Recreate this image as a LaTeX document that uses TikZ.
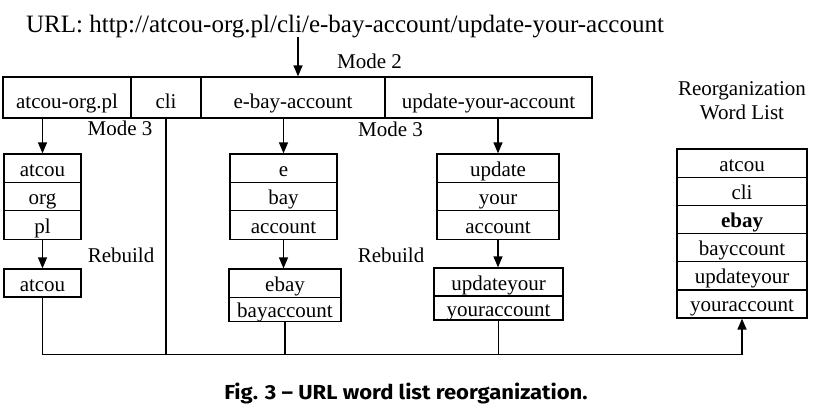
\documentclass[tikz,border=0pt]{standalone}
\usepackage{fontspec}
\setmainfont{Liberation Serif}
\newfontfamily\capfont{Fira Sans}[FakeStretch=1.085]
\usetikzlibrary{arrows.meta}

\begin{document}
\begin{tikzpicture}[x=1pt,y=-1pt,
        cx/.style={draw, line width=1.3pt, inner sep=0pt, text height=16pt, text depth=0pt, font=\fontsize{21}{24}\selectfont},
        barra/.style={cx, minimum height=41pt, text height=21.6pt},
        rot/.style={inner sep=0pt, anchor=base, font=\fontsize{21}{24}\selectfont},
        seta/.style={line width=1.3pt, -{Triangle[length=11pt,width=9pt]}},
        liga/.style={line width=1.7pt}] %3
            \useasboundingbox (0,0) rectangle (820,415);

            \node[rot, font=\fontsize{25}{28}\selectfont] (url) at (345,32) {URL: http://atcou-org.pl/cli/e-bay-account/update-your-account};

            \node[barra, minimum width=128pt] (t1) at (67,97.5) {atcou-org.pl};
            \node[barra, minimum width=70pt] (t2) at (166,97.5) {cli};
            \node[barra, minimum width=184pt] (t3) at (293,97.5) {e-bay-account};
            \node[barra, minimum width=207pt] (t4) at (488.5,97.5) {update-your-account};

            \node[cx, minimum width=77pt, minimum height=28.4pt] (l1) at (42.5,168.2) {atcou};
            \node[cx, minimum width=77pt, minimum height=28.4pt] (l2) at (42.5,196.6) {org};
            \node[cx, minimum width=77pt, minimum height=28.4pt] (l3) at (42.5,225) {pl};
            \node[cx, minimum width=77pt, minimum height=28pt] (lr) at (42.5,283) {atcou};

            \node[cx, minimum width=107pt, minimum height=28.4pt] (m1) at (283.5,168.2) {e};
            \node[cx, minimum width=107pt, minimum height=28.4pt] (m2) at (283.5,196.6) {bay};
            \node[cx, minimum width=107pt, minimum height=28.4pt] (m3) at (283.5,225) {account};
            \node[cx, minimum width=112pt, minimum height=28.3pt] (mr1) at (285,283.2) {ebay};
            \node[cx, minimum width=112pt, minimum height=24.3pt] (mr2) at (285,309.5) {bayaccount};

            \node[cx, minimum width=122pt, minimum height=28.4pt] (u1) at (498,168.2) {update};
            \node[cx, minimum width=122pt, minimum height=28.4pt] (u2) at (498,196.6) {your};
            \node[cx, minimum width=122pt, minimum height=28.4pt] (u3) at (498,225) {account};
            \node[cx, minimum width=129pt, minimum height=28pt] (ur1) at (498.5,282) {updateyour};
            \node[cx, minimum width=129pt, minimum height=24pt] (ur2) at (498.5,308) {youraccount};

            \node[rot] (ttl1) at (742,95) {Reorganization};
            \node[rot] (ttl2) at (742,119) {Word List};
            \node[cx, minimum width=130pt, minimum height=28.17pt] (w1) at (742,163.1) {atcou};
            \node[cx, minimum width=130pt, minimum height=28.17pt] (w2) at (742,191.3) {cli};
            \node[cx, minimum width=130pt, minimum height=28.17pt] (w3) at (742,219.4) {\textbf{ebay}};
            \node[cx, minimum width=130pt, minimum height=28.17pt] (w4) at (742,247.6) {bayccount};
            \node[cx, minimum width=130pt, minimum height=28.17pt] (w5) at (742,275.8) {updateyour};
            \node[cx, minimum width=130pt, minimum height=28.17pt] (w6) at (742,303.9) {youraccount};

            \node[rot] (mode2) at (369.5,68) {Mode 2};
            \node[rot] (mode3a) at (120,135) {Mode 3};
            \node[rot] (mode3b) at (390.5,136) {Mode 3};
            \node[rot] (reb1) at (121,262) {Rebuild};
            \node[rot] (reb2) at (391,262) {Rebuild};

            \coordinate (src) at (298,37);
            \coordinate (bus) at (0,354.5);
            \draw[seta] (src) -- (src |- t3.north);
            \draw[seta] (l1.north |- t1.south) -- (l1.north);
            \draw[seta] (l3.south) -- (lr.north);
            \draw[seta] (m1.north |- t3.south) -- (m1.north);
            \draw[seta] (m3.south) -- (m3.south |- mr1.north);
            \draw[seta] (u1.north |- t4.south) -- (u1.north);
            \draw[seta] (u3.south) -- (u3.south |- ur1.north);

            \draw[liga, -{Triangle[length=11pt,width=9pt]}] (lr.south) |- (bus -| w6.south) -- (w6.south);
            \draw[liga] (t2.south) -- (t2.south |- bus);
            \draw[liga] (mr2.south) -- (mr2.south |- bus);
            \draw[liga] (ur2.south) -- (ur2.south |- bus);

            \node[anchor=base, inner sep=0pt, font=\capfont\bfseries\fontsize{20.3}{22}\selectfont] (cap) at (406,399) {Fig. 3 – URL word list reorganization.};
        \end{tikzpicture}
\end{document}
